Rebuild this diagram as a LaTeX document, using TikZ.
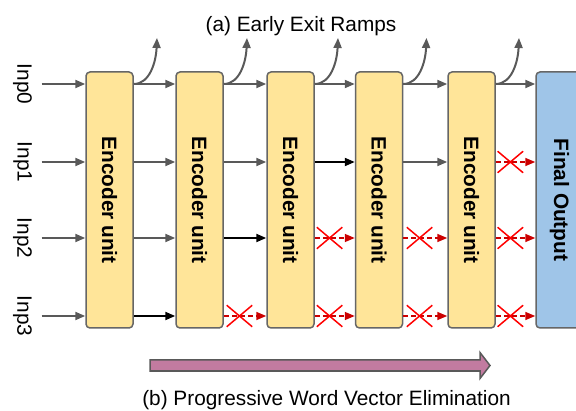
\documentclass[tikz,border=0pt]{standalone}
\usepackage{fontspec}
\setmainfont{Liberation Sans}
\usetikzlibrary{arrows.meta,shapes.misc}

\definecolor{unitfill}{HTML}{FFE599}
\definecolor{outfill}{HTML}{9FC5E8}
\definecolor{edgegray}{HTML}{666666}
\definecolor{arrowgray}{HTML}{595959}
\definecolor{dropred}{HTML}{CC0000}
\definecolor{barpink}{HTML}{C27BA0}

\begin{document}
\begin{tikzpicture}[x=1pt,y=1pt]
  \tikzset{UnitStyle/.style = {
  draw = edgegray,
  line width = 1.5pt,
  rounded corners = 4pt,
  fill = unitfill,
  minimum width = 47pt,
  minimum height = 256pt,
  inner sep = 0pt,
  font = \fontsize{20.8}{24}\selectfont\bfseries}}
  \tikzset{OutputStyle/.style = {UnitStyle, fill = outfill}}
  \tikzset{LabelStyle/.style = {
  rotate = -90,
  inner sep = 9.5pt,
  font = \fontsize{20.8}{24}\selectfont}}
  \tikzset{TitleStyle/.style = {anchor = base, inner sep = 0pt,
  font = \fontsize{20.8}{24}\selectfont}}
  \tikzset{FlowStyle/.style = {draw = arrowgray, line width = 2pt,
  -{Triangle[length=10pt,width=8pt]}}}
  \tikzset{KeepStyle/.style = {FlowStyle, draw = black}}
  \tikzset{DropStyle/.style = {draw = dropred, line width = 1.5pt,
  dash pattern = on 5pt off 3pt,
  -{Triangle[length=10pt,width=8pt]}}}
  \tikzset{CrossStyle/.style = {
  cross out, solid,
  draw = red,
  line width = 1.5pt,
  inner sep = 0pt,
  minimum width = 24pt,
  minimum height = 20pt}}
  \useasboundingbox (0,0) rectangle (576,410);
  % encoder units and output
  \node [UnitStyle] (enc1) at (109.5,210) {\rotatebox{-90}{Encoder unit}};
  \node [UnitStyle] (enc2) at (199.5,210) {\rotatebox{-90}{Encoder unit}};
  \node [UnitStyle] (enc3) at (290.5,210) {\rotatebox{-90}{Encoder unit}};
  \node [UnitStyle] (enc4) at (379,210) {\rotatebox{-90}{Encoder unit}};
  \node [UnitStyle] (enc5) at (471.5,210) {\rotatebox{-90}{Encoder unit}};
  \node [OutputStyle] (out) at (559.5,210) {\rotatebox{-90}{Final Output}};
  % inputs
  \node [LabelStyle] (inp0) at (22.5,326) {Inp0};
  \node [LabelStyle] (inp1) at (22.5,248) {Inp1};
  \node [LabelStyle] (inp2) at (22.5,172) {Inp2};
  \node [LabelStyle] (inp3) at (22.5,94) {Inp3};
  \draw [FlowStyle] (inp0) -- (enc1.west |- inp0);
  \draw [FlowStyle] (inp1) -- (enc1.west |- inp1);
  \draw [FlowStyle] (inp2) -- (enc1.west |- inp2);
  \draw [FlowStyle] (inp3) -- (enc1.west |- inp3);
  % row 0 and exit ramps
  \coordinate (ex1) at (157,372);
  \coordinate (ex2) at (247,372);
  \coordinate (ex3) at (338,372);
  \coordinate (ex4) at (426.5,372);
  \coordinate (ex5) at (519,372);
  \draw [FlowStyle] (enc1.east |- inp0) -- (enc2.west |- inp0);
  \draw [FlowStyle] (enc2.east |- inp0) -- (enc3.west |- inp0);
  \draw [FlowStyle] (enc3.east |- inp0) -- (enc4.west |- inp0);
  \draw [FlowStyle] (enc4.east |- inp0) -- (enc5.west |- inp0);
  \draw [FlowStyle] (enc5.east |- inp0) -- (out.west |- inp0);
  \draw [FlowStyle] (enc1.east |- inp0) .. controls +(16,0) and +(-1,-24) .. (ex1);
  \draw [FlowStyle] (enc2.east |- inp0) .. controls +(16,0) and +(-1,-24) .. (ex2);
  \draw [FlowStyle] (enc3.east |- inp0) .. controls +(16,0) and +(-1,-24) .. (ex3);
  \draw [FlowStyle] (enc4.east |- inp0) .. controls +(16,0) and +(-1,-24) .. (ex4);
  \draw [FlowStyle] (enc5.east |- inp0) .. controls +(16,0) and +(-1,-24) .. (ex5);
  % row 1
  \draw [FlowStyle] (enc1.east |- inp1) -- (enc2.west |- inp1);
  \draw [FlowStyle] (enc2.east |- inp1) -- (enc3.west |- inp1);
  \draw [KeepStyle] (enc3.east |- inp1) -- (enc4.west |- inp1);
  \draw [FlowStyle] (enc4.east |- inp1) -- (enc5.west |- inp1);
  \draw [DropStyle] (enc5.east |- inp1) -- node [CrossStyle, pos=0.37] (x51) {} (out.west |- inp1);
  % row 2
  \draw [FlowStyle] (enc1.east |- inp2) -- (enc2.west |- inp2);
  \draw [KeepStyle] (enc2.east |- inp2) -- (enc3.west |- inp2);
  \draw [DropStyle] (enc3.east |- inp2) -- node [CrossStyle, pos=0.37] (x32) {} (enc4.west |- inp2);
  \draw [DropStyle] (enc4.east |- inp2) -- node [CrossStyle, pos=0.37] (x42) {} (enc5.west |- inp2);
  \draw [DropStyle] (enc5.east |- inp2) -- node [CrossStyle, pos=0.37] (x52) {} (out.west |- inp2);
  % row 3
  \draw [KeepStyle] (enc1.east |- inp3) -- (enc2.west |- inp3);
  \draw [DropStyle] (enc2.east |- inp3) -- node [CrossStyle, pos=0.37] (x23) {} (enc3.west |- inp3);
  \draw [DropStyle] (enc3.east |- inp3) -- node [CrossStyle, pos=0.37] (x33) {} (enc4.west |- inp3);
  \draw [DropStyle] (enc4.east |- inp3) -- node [CrossStyle, pos=0.37] (x43) {} (enc5.west |- inp3);
  \draw [DropStyle] (enc5.east |- inp3) -- node [CrossStyle, pos=0.37] (x53) {} (out.west |- inp3);
  % elimination bar
  \draw [draw = arrowgray, line width = 1.5pt, fill = barpink, line join = miter]
    (150,39) -- (480,39) -- (480,31.5) -- (490,44.5) -- (480,57.5) -- (480,50) -- (150,50) -- cycle;
  \node [TitleStyle] (ttla) at (301,378.3) {(a) Early Exit Ramps};
  \node [TitleStyle] (ttlb) at (326.5,4.5) {(b) Progressive Word Vector Elimination};
\end{tikzpicture}
\end{document}
